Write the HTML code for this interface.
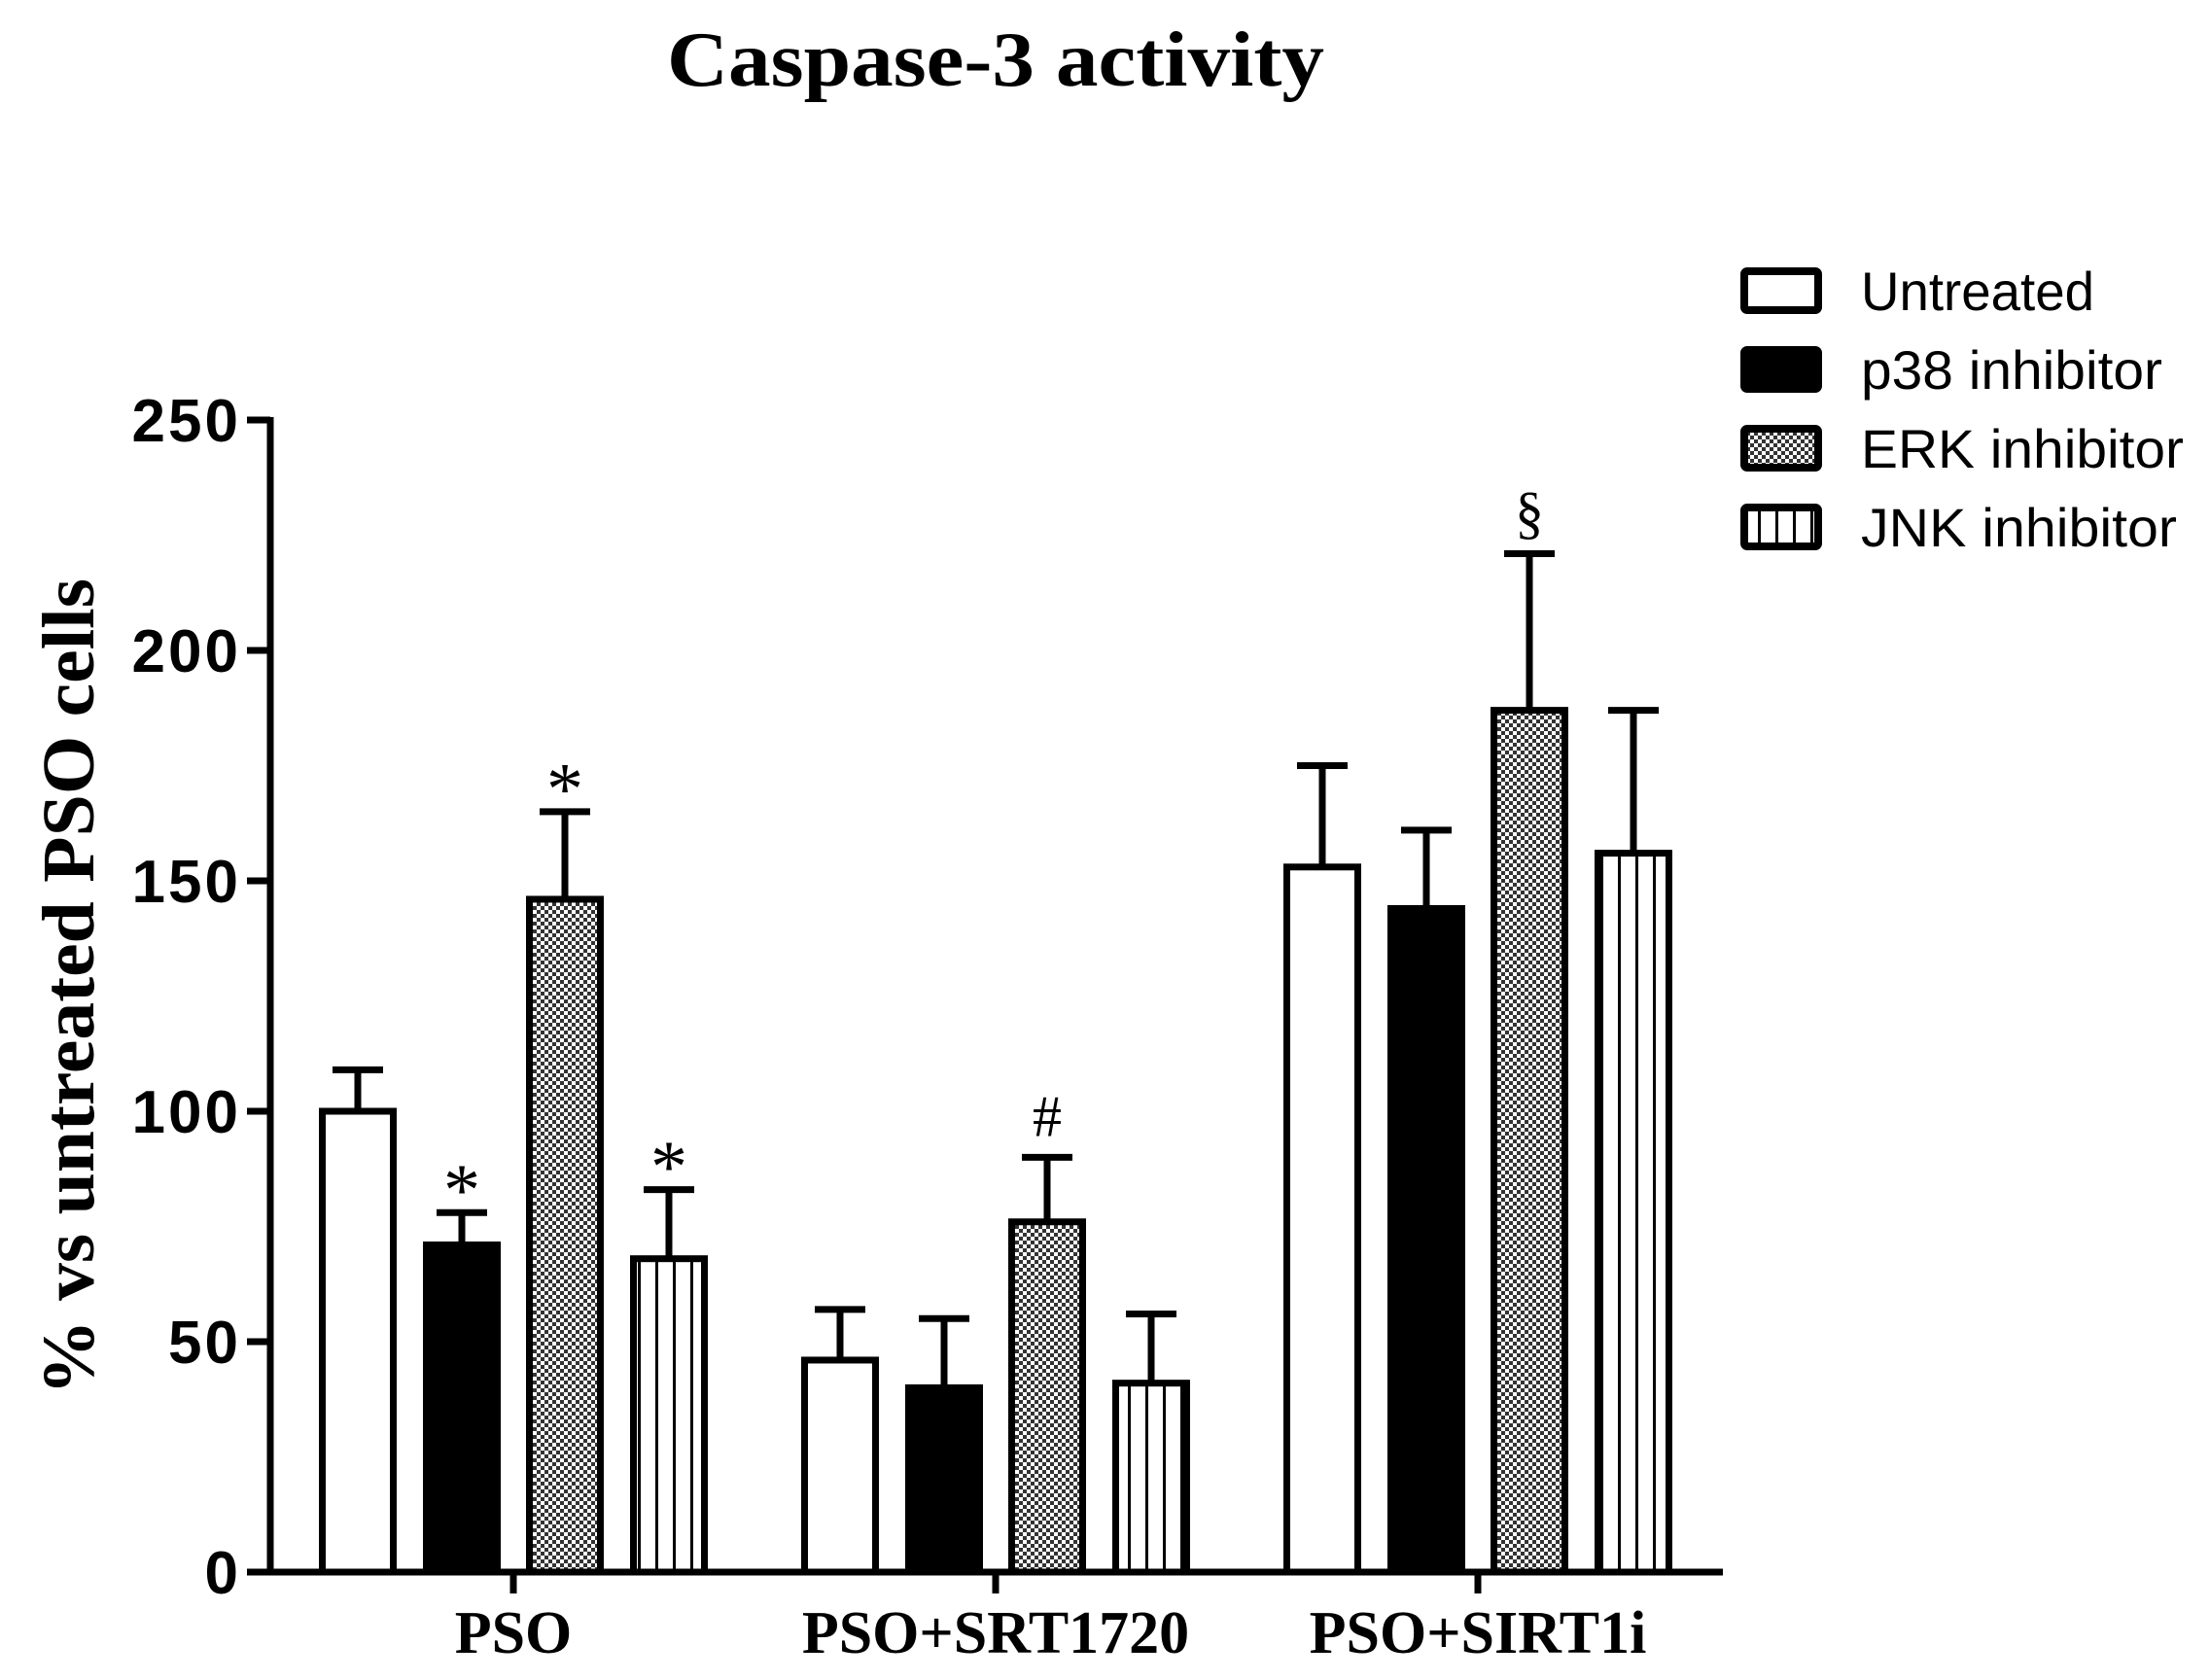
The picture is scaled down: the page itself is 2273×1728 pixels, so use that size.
<!DOCTYPE html>
<html><head><meta charset="utf-8"><style>
html,body{margin:0;padding:0;background:#fff;}
svg{display:block;}
</style></head><body>
<svg id="chart" width="2273" height="1728" viewBox="0 0 2273 1728" xmlns="http://www.w3.org/2000/svg">
<defs>
<pattern id="checker" width="8" height="8" patternUnits="userSpaceOnUse">
<rect width="8" height="8" fill="#fff"/><rect width="4" height="4" fill="#333"/><rect x="4" y="4" width="4" height="4" fill="#333"/>
</pattern>
<pattern id="vstripe" width="18" height="10" patternUnits="userSpaceOnUse">
<rect width="18" height="10" fill="#fff"/><rect x="8" width="3" height="10" fill="#000"/>
</pattern>
</defs>
<text x="1024" y="88" text-anchor="middle" font-family="Liberation Serif, serif" font-weight="bold" font-size="80" textLength="676" lengthAdjust="spacingAndGlyphs">Caspase-3 activity</text>
<text transform="translate(96,1015) rotate(-90)" text-anchor="middle" font-family="Liberation Serif, serif" font-weight="bold" font-size="76" textLength="840" lengthAdjust="spacingAndGlyphs">% vs untreated PSO cells</text>
<g id="plot"></g>
<g id="legend"></g>
</svg>
<script>
const categories = ["PSO", "PSO+SRT1720", "PSO+SIRT1i"];
const seriesNames = ["Untreated", "p38 inhibitor", "ERK inhibitor", "JNK inhibitor"];
const untreated = [100, 46, 153];
const p38 = [71, 40, 144];
const erk = [146, 76, 187];
const jnk = [68, 41, 156];
const untreatedErr = [9, 11, 22];
const p38Err = [7, 15, 17];
const erkErr = [19, 14, 34];
const jnkErr = [15, 15, 31];
const annotations = [["", "*", "*", "*"], ["", "", "#", ""], ["", "", "§", ""]];
const yTicks = [0, 50, 100, 150, 200, 250];

const NS = "http://www.w3.org/2000/svg";
const x0 = 278, x1 = 1772, yTop = 432, yBot = 1617, yMax = 250;
const yScale = v => yBot - v / yMax * (yBot - yTop);
const groupCenter = i => 528 + i * 496;
const barOffsets = [-160, -53, 53, 160];
const barW = 73;
const fills = ["#fff", "#000", "url(#checker)", "url(#vstripe)"];
const series = [untreated, p38, erk, jnk];
const errs = [untreatedErr, p38Err, erkErr, jnkErr];
const plot = document.getElementById('plot');
function mk(tag, attrs, parent) {
  const e = document.createElementNS(NS, tag);
  for (const k in attrs) e.setAttribute(k, attrs[k]);
  parent.appendChild(e);
  return e;
}
series.forEach((vals, s) => {
  vals.forEach((v, i) => {
    const cx = groupCenter(i) + barOffsets[s];
    const top = yScale(v), errTop = yScale(v + errs[s][i]);
    const eb = mk('line', {x1: cx, x2: cx, y1: top, y2: errTop, stroke: '#000', 'stroke-width': 7}, plot);
    
    
    const cap = mk('line', {x1: cx - 26, x2: cx + 26, y1: errTop, y2: errTop, stroke: '#000', 'stroke-width': 7}, plot);
    
    
    const r = mk('rect', {x: cx - barW / 2, y: top, width: barW, height: yBot - top, fill: fills[s], stroke: '#000', 'stroke-width': 7}, plot);
    
    
    const a = annotations[i][s];
    if (a) {
      const t = mk('text', {x: cx, y: errTop - 22, 'text-anchor': 'middle', 'font-family': 'Liberation Serif, serif', 'font-size': a === '*' ? 76 : 60}, plot);
      if (a === '*') t.setAttribute('y', errTop + 2);
      t.textContent = a;
      
      
    }
  });
});
const ya = mk('line', {x1: x0, x2: x0, y1: yTop - 3, y2: yBot + 3, stroke: '#000', 'stroke-width': 7}, plot);


const xa = mk('line', {x1: x0 - 3, x2: x1, y1: yBot, y2: yBot, stroke: '#000', 'stroke-width': 7}, plot);


yTicks.forEach(v => {
  const y = yScale(v);
  const tk = mk('line', {x1: x0 - 24, x2: x0, y1: y, y2: y, stroke: '#000', 'stroke-width': 7}, plot);
  
  
  const t = mk('text', {x: x0 - 30, y: y + 22, 'text-anchor': 'end', 'font-family': 'Liberation Sans, sans-serif', 'font-weight': 'bold', 'font-size': 62, 'letter-spacing': 3}, plot);
  t.textContent = v;
  
  
});
categories.forEach((c, i) => {
  const cx = groupCenter(i);
  const tk = mk('line', {x1: cx, x2: cx, y1: yBot, y2: yBot + 22, stroke: '#000', 'stroke-width': 7}, plot);
  
  
  const t = mk('text', {x: cx, y: 1700, 'text-anchor': 'middle', 'font-family': 'Liberation Serif, serif', 'font-weight': 'bold', 'font-size': 62}, plot);
  t.textContent = c;
  
  
});
const lg = document.getElementById('legend');
seriesNames.forEach((n, s) => {
  const y = 299 + s * 81;
  const b = mk('rect', {x: 1794, y: y - 20, width: 76, height: 40, fill: fills[s], stroke: '#000', 'stroke-width': 8, rx: 3}, lg);
  
  
  const t = mk('text', {x: 1914, y: y + 20, 'font-family': 'Liberation Sans, sans-serif', 'font-size': 56, textLength: [240, 310, 332, 325][s], lengthAdjust: 'spacingAndGlyphs'}, lg);
  t.textContent = n;
  
  
});
</script>
</body></html>
